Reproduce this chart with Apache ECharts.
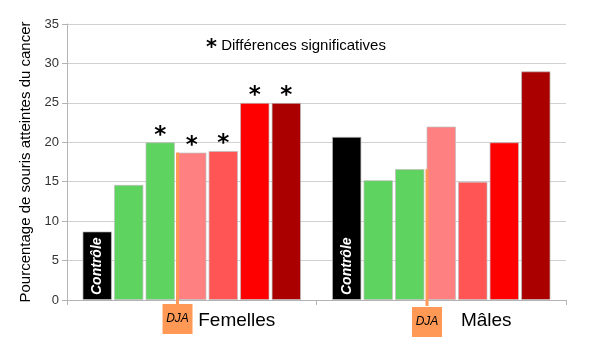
<!DOCTYPE html>
<html>
<head>
<meta charset="utf-8">
<script src="https://cdn.jsdelivr.net/npm/echarts@6/dist/echarts.min.js"></script>
<style>
	html, body { margin: 0; padding: 0; background: #fff; }
	#chart { width: 600px; height: 350px; }
</style>
</head>
<body>
<div id="chart"></div>
<script>
// categories et valeurs
var categories = ['Femelles', 'Mâles'];
var groupNames = ['Contrôle', 'Groupe 2', 'Groupe 3', 'Groupe 4', 'Groupe 5', 'Groupe 6', 'Groupe 7'];
var values = [
	[8.7, 20.7],
	[14.6, 15.2],
	[20.0, 16.6],
	[18.7, 22.0],
	[18.9, 15.0],
	[25.0, 20.0],
	[25.0, 29.0]
];
// différences significatives (astérisque)
var significant = [
	[0, 0],
	[0, 0],
	[1, 0],
	[1, 0],
	[1, 0],
	[1, 0],
	[1, 0]
];
// niveau de la DJA dans chaque catégorie
var djaLevels = [18.7, 16.6];
var yTicks = [0, 5, 10, 15, 20, 25, 30, 35];

var barColors = ['#000000', '#5fd35f', '#5fd35f', '#ff8080', '#ff5555', '#ff0000', '#aa0000'];
var catGap = 0.124, barGapRatio = 0.07;

var chart = echarts.init(document.getElementById('chart'));

var series = [];
for(var i = 0; i < values.length; i++) {
	(function(i) {
		var s = {
			name: groupNames[i],
			type: 'bar',
			barGap: '7%',
			data: values[i],
			itemStyle: {
				color: barColors[i],
				borderColor: 'rgba(190,190,190,0.7)',
				borderWidth: 1
			},
			label: {
				show: true,
				position: 'top',
				distance: -5,
				formatter: function(p) {
					return significant[i][p.dataIndex] ? '*' : '';
				},
				color: '#000',
				fontSize: 23,
				fontWeight: 'bold',
				fontFamily: 'DejaVu Sans'
			}
		};
		if(i === 0) {
			s.label = {
				show: true,
				position: 'insideBottom',
				rotate: 90,
				align: 'left',
				verticalAlign: 'middle',
				distance: 5,
				formatter: 'Contrôle',
				color: '#fff',
				fontSize: 14,
				fontWeight: 'bold',
				fontStyle: 'italic',
				fontFamily: 'Liberation Sans'
			};
		}
		series.push(s);
	})(i);
}

// marqueurs DJA
series.push({
	type: 'custom',
	z: 10,
	clip: false,
	data: djaLevels.map(function(v, idx) { return [idx, v]; }),
	renderItem: function(params, api) {
		var idx = api.value(0);
		var top = api.coord([idx, api.value(1)]);
		var base = api.coord([idx, 0]);
		var band = api.size([1, 0])[0];
		var avail = band * (1 - catGap);
		var w = avail / (7 + 6 * barGapRatio);
		var x = top[0] - avail / 2 + 3 * w * (1 + barGapRatio) + 0.5;
		return {
			type: 'group',
			children: [{
				type: 'line',
				shape: { x1: x, y1: top[1], x2: x, y2: base[1] + 6 },
				style: { stroke: '#ff9955', lineWidth: 3 }
			}, {
				type: 'rect',
				shape: { x: x - 15, y: base[1] + 4 + idx * 3, width: 30, height: 30 },
				style: { fill: '#ff9955' }
			}, {
				type: 'text',
				x: x,
				y: base[1] + 19 + idx * 3,
				style: {
					text: 'DJA',
					align: 'center',
					verticalAlign: 'middle',
					fill: '#000',
					font: 'italic 12px "Liberation Sans"'
				}
			}]
		};
	}
});

option = {
	animation: false,
	textStyle: { fontFamily: 'Liberation Sans' },
	grid: { left: 67, right: 34, top: 24, bottom: 50 },
	xAxis: {
		type: 'category',
		data: categories,
		axisLine: { lineStyle: { color: '#b3b3b3' } },
		axisTick: { show: true, length: 5, lineStyle: { color: '#b3b3b3' } },
		axisLabel: {
			color: '#000',
			fontSize: 19,
			margin: 11,
			padding: [0, 0, 0, 90]
		}
	},
	yAxis: {
		type: 'value',
		min: 0,
		max: 35,
		interval: 5,
		name: 'Pourcentage de souris atteintes du cancer',
		nameLocation: 'middle',
		nameGap: 33,
		nameTextStyle: { color: '#000', fontSize: 15 },
		axisLine: { show: true, lineStyle: { color: '#b3b3b3' } },
		axisTick: { show: true, length: 5, lineStyle: { color: '#b3b3b3' } },
		axisLabel: {
			color: '#333',
			fontSize: 13,
			margin: 8,
			formatter: function(v) { return yTicks.indexOf(v) > -1 ? v : ''; }
		},
		splitLine: { lineStyle: { color: '#d0d0d0' } }
	},
	barCategoryGap: '12.4%',
	graphic: [{
		type: 'text',
		left: 206,
		top: 38,
		style: {
			text: '{s|*} Différences significatives',
			rich: {
				s: { fontSize: 21, fontWeight: 'bold', fontFamily: 'DejaVu Sans', padding: [6, 0, 0, 0] }
			},
			fill: '#000',
			font: '15px "Liberation Sans"'
		}
	}],
	series: series
};

chart.setOption(option);
</script>
</body>
</html>
